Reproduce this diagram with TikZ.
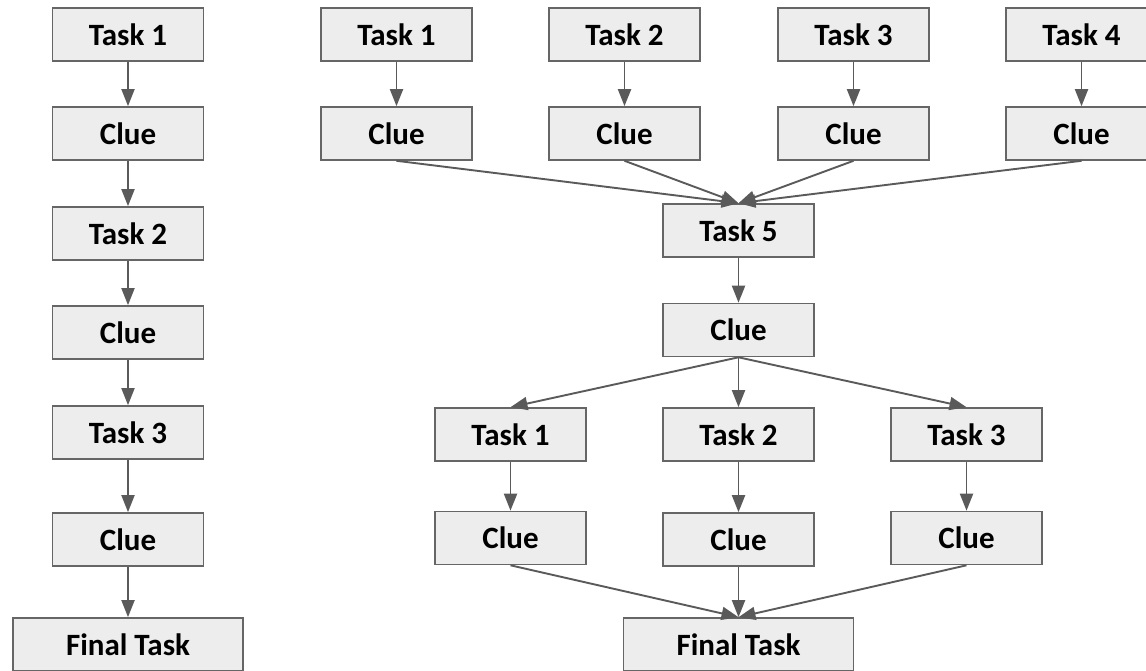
\documentclass[tikz,border=0pt]{standalone}
\usepackage{fontspec}
\setmainfont{Carlito}
\usetikzlibrary{arrows.meta}
\definecolor{boxfill}{HTML}{EDEDED}
\definecolor{boxline}{HTML}{666666}
\definecolor{arr}{HTML}{5A5A5A}
\tikzset{
  box/.style={draw=boxline, fill=boxfill, line width=1.6pt, minimum width=151pt, minimum height=53pt, inner sep=0pt, font=\fontsize{31}{36}\selectfont\bfseries},
  widebox/.style={box, minimum width=230pt},
  conn/.style={draw=arr, line width=1.9pt, -{Triangle[length=17pt,width=13pt]}}
}
\newcommand{\tx}[1]{\raisebox{-2pt}{#1}}
\begin{document}
\begin{tikzpicture}[x=1pt,y=-1pt]
\useasboundingbox (0,0) rectangle (1146,671);
% left column
\node[box] (l1) at (128,34.5) {\tx{Task 1}};
\node[box] (l2) at (128,133.5) {\tx{Clue}};
\node[box] (l3) at (128,233.5) {\tx{Task 2}};
\node[box] (l4) at (128,332.5) {\tx{Clue}};
\node[box] (l5) at (128,432.5) {\tx{Task 3}};
\node[box] (l6) at (128,539.5) {\tx{Clue}};
\node[widebox] (l7) at (128,644.5) {\tx{Final Task}};
\draw[conn] (l1) -- (l2);
\draw[conn] (l2) -- (l3);
\draw[conn] (l3) -- (l4);
\draw[conn] (l4) -- (l5);
\draw[conn] (l5) -- (l6);
\draw[conn] (l6) -- (l7);
% right top row
\node[box] (t1) at (396.5,34.5) {\tx{Task 1}};
\node[box] (t2) at (624.5,34.5) {\tx{Task 2}};
\node[box] (t3) at (853.5,34.5) {\tx{Task 3}};
\node[box] (t4) at (1081.5,34.5) {\tx{Task 4}};
\node[box] (c1) at (396.5,133.5) {\tx{Clue}};
\node[box] (c2) at (624.5,133.5) {\tx{Clue}};
\node[box] (c3) at (853.5,133.5) {\tx{Clue}};
\node[box] (c4) at (1081.5,133.5) {\tx{Clue}};
\draw[conn] (t1) -- (c1);
\draw[conn] (t2) -- (c2);
\draw[conn] (t3) -- (c3);
\draw[conn] (t4) -- (c4);
\node[box] (t5) at (738.5,230.5) {\tx{Task 5}};
\draw[conn] (c1.south) -- (t5.north);
\draw[conn] (c2.south) -- (t5.north);
\draw[conn] (c3.south) -- (t5.north);
\draw[conn] (c4.south) -- (t5.north);
\node[box] (c5) at (738.5,330) {\tx{Clue}};
\draw[conn] (t5) -- (c5);
% second row
\node[box] (s1) at (510.5,434.5) {\tx{Task 1}};
\node[box] (s2) at (738.5,434.5) {\tx{Task 2}};
\node[box] (s3) at (966.5,434.5) {\tx{Task 3}};
\draw[conn] (c5.south) -- (s1.north);
\draw[conn] (c5.south) -- (s2.north);
\draw[conn] (c5.south) -- (s3.north);
\node[box] (d1) at (510.5,538) {\tx{Clue}};
\node[box] (d2) at (738.5,539.5) {\tx{Clue}};
\node[box] (d3) at (966.5,538) {\tx{Clue}};
\draw[conn] (s1) -- (d1);
\draw[conn] (s2) -- (d2);
\draw[conn] (s3) -- (d3);
\node[widebox] (f) at (738.5,644.5) {\tx{Final Task}};
\draw[conn] (d1.south) -- (f.north);
\draw[conn] (d2.south) -- (f.north);
\draw[conn] (d3.south) -- (f.north);
\end{tikzpicture}
\end{document}
